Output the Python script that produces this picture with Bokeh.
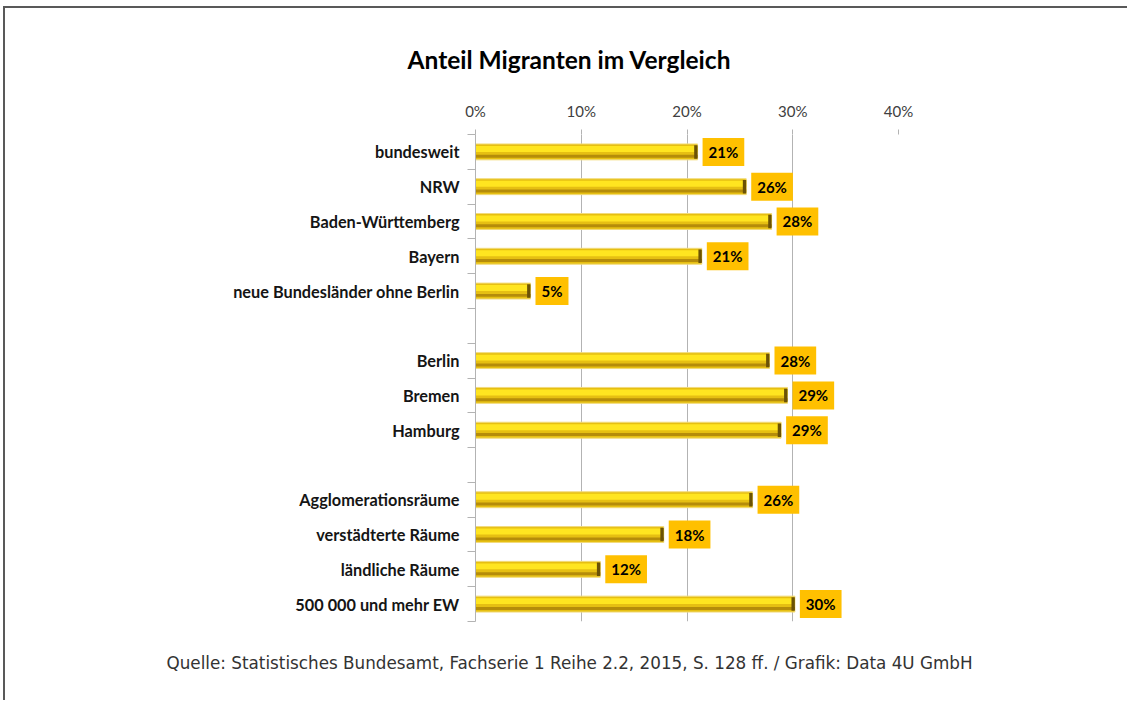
from bokeh.plotting import figure
from bokeh.models import FixedTicker, Range1d, Title, ColumnDataSource, PrintfTickFormatter
from bokeh.core.properties import value
from bokeh.embed import file_html
from bokeh.resources import INLINE

# ---------------- data ----------------
title_text = "Anteil Migranten im Vergleich"
source_text = "Quelle: Statistisches Bundesamt, Fachserie 1 Reihe 2.2, 2015, S. 128 ff. / Grafik: Data 4U GmbH"

group_laender = ["bundesweit", "NRW", "Baden-Württemberg", "Bayern", "neue Bundesländer ohne Berlin"]
values_laender = [21.0, 25.6, 28.0, 21.4, 5.2]
labels_laender = ["21%", "26%", "28%", "21%", "5%"]

group_stadtstaaten = ["Berlin", "Bremen", "Hamburg"]
values_stadtstaaten = [27.8, 29.5, 28.9]
labels_stadtstaaten = ["28%", "29%", "29%"]

group_raeume = ["Agglomerationsräume", "verstädterte Räume", "ländliche Räume", "500 000 und mehr EW"]
values_raeume = [26.2, 17.8, 11.8, 30.2]
labels_raeume = ["26%", "18%", "12%", "30%"]

x_ticks = [0, 10, 20, 30, 40]

# ---------------- rows (one empty row between groups) ----------------
groups = [
    (group_laender, values_laender, labels_laender),
    (group_stadtstaaten, values_stadtstaaten, labels_stadtstaaten),
    (group_raeume, values_raeume, labels_raeume),
]
cats, vals, labs, ypos = [], [], [], []
row = 0
for gi, (c, v, l) in enumerate(groups):
    for ci, vi, li in zip(c, v, l):
        cats.append(ci); vals.append(vi); labs.append(li); ypos.append(row)
        row += 1
    if gi < len(groups) - 1:
        row += 1
n_rows = row

src = ColumnDataSource(dict(
    y=ypos, v=vals, lab=labs, zero=[0] * len(vals),
    y_hi=[y - 0.085 for y in ypos], y_sh=[y + 0.125 for y in ypos],
    cap=[v - 0.32 for v in vals],
))

# ---------------- figure ----------------
W, H = 1124, 694
FL, FR, FT, FB = 470, 231, 126, 78

p = figure(width=W, height=H, output_backend="svg", toolbar_location=None,
           x_range=Range1d(x_ticks[0], x_ticks[-1]),
           y_range=Range1d(n_rows - 0.5, -0.5),
           x_axis_location="above",
           min_border_left=FL, min_border_right=FR, min_border_top=FT, min_border_bottom=FB,
           styles={"margin-left": "5px", "margin-top": "8px",
                   "box-shadow": "-2px -2px 0px 0px #595959"})
p.outline_line_color = None
p.background_fill_color = "white"
p.border_fill_color = "white"

grid_col = "#B3B3B3"

# x axis (top)
p.xaxis.ticker = FixedTicker(ticks=x_ticks)
p.xaxis.formatter = PrintfTickFormatter(format="%d%%")
p.xaxis.axis_line_color = None
p.xaxis.major_tick_line_color = grid_col
p.xaxis.major_tick_out = 5
p.xaxis.major_tick_in = 0
p.xaxis.minor_tick_line_color = None
p.xaxis.major_label_standoff = 10
p.xaxis.major_label_text_font = "Lato"
p.xaxis.major_label_text_font_size = "15px"
p.xaxis.major_label_text_color = "#404040"

p.xgrid.ticker = FixedTicker(ticks=x_ticks)
p.xgrid.grid_line_color = grid_col
p.ygrid.grid_line_color = None

# y axis (categories, tick marks between rows)
p.yaxis.ticker = FixedTicker(ticks=ypos, minor_ticks=[i - 0.5 for i in range(n_rows + 1)])
p.yaxis.major_label_overrides = {y: c for y, c in zip(ypos, cats)}
p.yaxis.axis_line_color = grid_col
p.yaxis.major_tick_line_color = None
p.yaxis.minor_tick_line_color = grid_col
p.yaxis.minor_tick_out = 8
p.yaxis.minor_tick_in = 0
p.yaxis.major_label_standoff = 8
p.yaxis.major_label_text_font = "Lato"
p.yaxis.major_label_text_font_style = "bold"
p.yaxis.major_label_text_font_size = "16.3px"
p.yaxis.major_label_text_color = "#151515"

# bars (layered to imitate the bevelled gold look)
bh = 16 / 35
p.hbar(y="y", left="zero", right="v", height=bh, source=src,
       fill_color="#E6BF12", line_color="#F2DB7C", line_width=1)
p.hbar(y="y_hi", left="zero", right="v", height=0.17, source=src,
       fill_color="#FFE520", line_color=None)
p.hbar(y="y_sh", left="zero", right="v", height=0.085, source=src,
       fill_color="#B58C0A", line_color=None)
p.hbar(y="y", left="cap", right="v", height=bh * 0.85, source=src,
       fill_color="#6B5206", line_color=None)

# value labels with gold boxes
p.text(x="v", y="y", text="lab", source=src, x_offset=5,
       anchor="center_left", text_align="left", text_baseline="middle",
       text_font=value("Lato"), text_font_style="bold", text_font_size="15px",
       text_color="#000000", background_fill_color="#FFC000",
       border_line_color=None, padding=(6, 5))

# title and source line
p.title = Title(text=title_text, align="left", offset=-68, standoff=49,
                text_font="Lato", text_font_style="bold", text_font_size="24.5px",
                text_color="#000000")
p.add_layout(Title(text=source_text, align="left", offset=-309, standoff=59,
                   text_font="DejaVu Sans", text_font_style="normal", text_font_size="16.8px",
                   text_color="#333333"), "below")

open("out.html", "w").write(file_html(p, INLINE))
